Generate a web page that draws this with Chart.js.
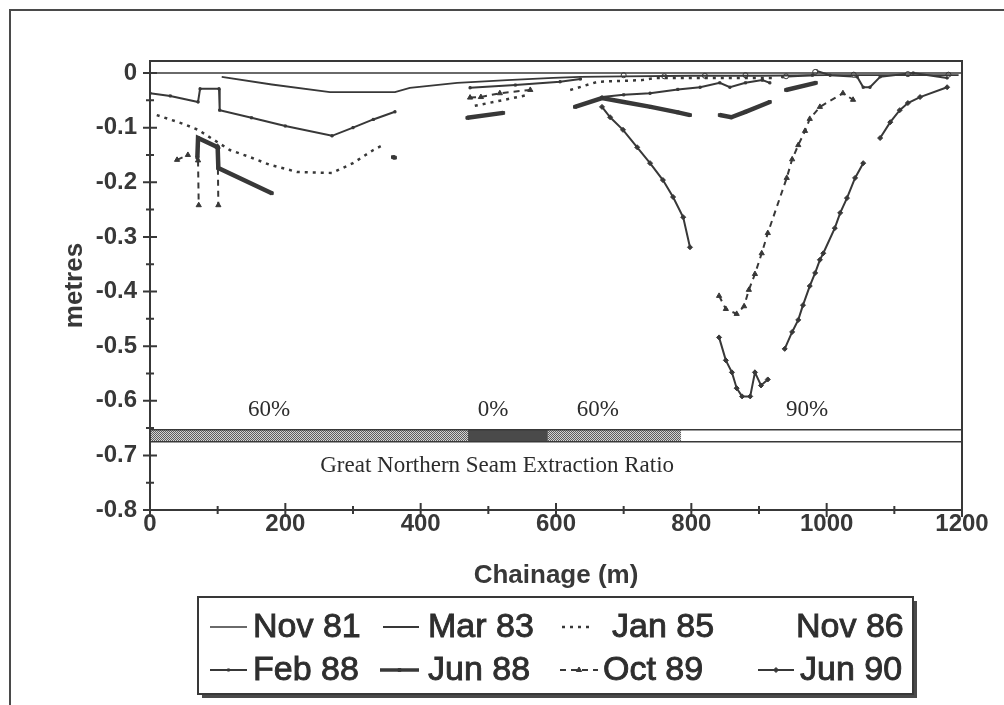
<!DOCTYPE html>
<html>
<head>
<meta charset="utf-8">
<script src="https://cdn.jsdelivr.net/npm/chart.js@4.4.1/dist/chart.umd.min.js"></script>
<style>
  html, body { margin: 0; padding: 0; background: #fff; }
  canvas { display: block; }
</style>
</head>
<body>
<canvas id="chart" width="1004" height="705"></canvas>
<script>
'use strict';

let canvasElem = document.getElementById('chart');

// chainage (m) / subsidence (m), null = break in the survey line
let nov81Chainage = [0, 1200];
let nov81Values = [0, 0];

let mar83Chainage = [106, 180, 266, 362, 384, 454, 528, 596, 636, 700, 800, 900, 1000, 1100, 1195];
let mar83Values = [-0.007, -0.021, -0.035, -0.035, -0.027, -0.018, -0.013, -0.009, -0.007, -0.006, -0.005, -0.005, -0.004, -0.004, -0.004];

let jan85Chainage = [10, 49, 71, 118, 148, 177, 217, 269, 300, 330, 347, 400, 480, 520, 559, 600, 621, 662, 727, 746, 842, 920];
let jan85Values = [-0.077, -0.093, -0.104, -0.141, -0.154, -0.168, -0.181, -0.183, -0.165, -0.141, -0.130, null, -0.060, -0.050, -0.040, null, -0.031, -0.016, -0.013, -0.009, -0.009, -0.009];

let nov86Chainage = [700, 760, 820, 880, 940, 983, 1040, 1120, 1180];
let nov86Values = [-0.004, -0.006, -0.005, -0.004, -0.006, 0.002, -0.003, -0.002, -0.003];

let feb88Chainage = [0, 30, 71, 74, 102, 103, 150, 200, 269, 300, 330, 362, 420, 473, 540, 606, 636, 650, 668, 700, 739, 780, 813, 842, 857, 880, 905, 916, 925, 935, 979, 985, 1005, 1045, 1054, 1064, 1079, 1128, 1178];
let feb88Values = [-0.037, -0.042, -0.053, -0.029, -0.029, -0.068, -0.082, -0.097, -0.115, -0.100, -0.085, -0.071, null, -0.027, -0.022, -0.016, -0.011, null, -0.044, -0.040, -0.037, -0.030, -0.026, -0.018, -0.026, -0.018, -0.013, -0.018, null, -0.007, -0.004, 0.004, -0.004, -0.007, -0.026, -0.026, -0.007, 0.0, -0.009];

let jun88Chainage = [70, 71, 100, 101, 180, 250, 359, 362, 400, 469, 522, 560, 628, 668, 700, 740, 780, 798, 820, 842, 859, 880, 916, 928, 940, 984];
let jun88Values = [-0.155, -0.119, -0.136, -0.174, -0.220, null, -0.154, -0.155, null, -0.082, -0.073, null, -0.062, -0.046, -0.053, -0.062, -0.072, -0.077, null, -0.077, -0.081, -0.071, -0.053, null, -0.031, -0.018];

let oct89Chainage = [40, 56, 64, 71, 72, 86, 100, 101, 300, 473, 489, 517, 562, 700, 841, 851, 867, 878, 885, 894, 904, 913, 941, 949, 958, 968, 975, 990, 1024, 1039];
let oct89Values = [-0.159, -0.150, null, -0.160, -0.242, null, -0.135, -0.242, null, -0.045, -0.044, -0.037, -0.031, null, -0.408, -0.432, -0.441, -0.427, -0.397, -0.368, -0.330, -0.293, -0.192, -0.158, -0.132, -0.106, -0.084, -0.062, -0.037, -0.049];

let jun90Chainage = [668, 680, 699, 720, 739, 758, 773, 788, 798, 820, 841, 851, 860, 867, 875, 887, 894, 903, 913, 925, 938, 949, 958, 965, 975, 983, 990, 995, 1012, 1020, 1030, 1042, 1054, 1066, 1079, 1094, 1108, 1120, 1138, 1178];
let jun90Values = [-0.062, -0.081, -0.104, -0.136, -0.165, -0.196, -0.227, -0.264, -0.319, null, -0.484, -0.526, -0.548, -0.577, -0.592, -0.592, -0.548, -0.572, -0.561, null, -0.505, -0.474, -0.452, -0.425, -0.390, -0.366, -0.342, -0.330, -0.284, -0.256, -0.229, -0.192, -0.165, null, -0.119, -0.090, -0.068, -0.055, -0.044, -0.026];

let seriesLabels = ['Nov 81', 'Mar 83', 'Jan 85', 'Nov 86', 'Feb 88', 'Jun 88', 'Oct 89', 'Jun 90'];

// Great Northern seam extraction ratio along the line
let ratioStart = [0, 470, 588, 785];
let ratioEnd = [470, 588, 785, 1200];
let ratioLabels = ['60%', '0%', '60%', '90%'];
let ratioLabelChainage = [176, 507, 662, 971];

let xTickValues = [0, 100, 200, 300, 400, 500, 600, 700, 800, 900, 1000, 1100, 1200];
let xTickLabels = ['0', '', '200', '', '400', '', '600', '', '800', '', '1000', '', '1200'];
let yTickValues = [-0.8, -0.75, -0.7, -0.65, -0.6, -0.55, -0.5, -0.45, -0.4, -0.35, -0.3, -0.25, -0.2, -0.15, -0.1, -0.05, 0];
let yTickLabels = ['-0.8', '', '-0.7', '', '-0.6', '', '-0.5', '', '-0.4', '', '-0.3', '', '-0.2', '', '-0.1', '', '0'];

let ink = '#383838';
let sans = '"Liberation Sans", Arial, sans-serif';
let serif = '"Liberation Serif", "Times New Roman", serif';

Chart.defaults.font.family = sans;
Chart.defaults.color = ink;

function toPoints(chainage, values) {
  let points = [];
  for (let i = 0; i < chainage.length; i++) {
    points.push({x: chainage[i], y: values[i]});
  }
  return points;
}

let seriesData = [
  toPoints(nov81Chainage, nov81Values),
  toPoints(mar83Chainage, mar83Values),
  toPoints(jan85Chainage, jan85Values),
  toPoints(nov86Chainage, nov86Values),
  toPoints(feb88Chainage, feb88Values),
  toPoints(jun88Chainage, jun88Values),
  toPoints(oct89Chainage, oct89Values),
  toPoints(jun90Chainage, jun90Values)
];

let seriesStyles = [
  {borderWidth: 1.5, pointRadius: 0},
  {borderWidth: 1.8, pointRadius: 0},
  {borderWidth: 2.5, borderDash: [3, 5], pointRadius: 0},
  {showLine: false, borderWidth: 1.2, pointRadius: 2.5, pointStyle: 'circle', pointBackgroundColor: '#fff'},
  {borderWidth: 2, pointRadius: 1.5, pointStyle: 'rect'},
  {borderWidth: 4.5, pointRadius: 2, pointStyle: 'rect'},
  {borderWidth: 2, borderDash: [6, 5], pointRadius: 3, pointStyle: 'triangle'},
  {borderWidth: 2, pointRadius: 2.5, pointStyle: 'rectRot'}
];

let datasets = [];
for (let i = 0; i < seriesLabels.length; i++) {
  let ds = {
    label: seriesLabels[i],
    data: seriesData[i],
    borderColor: ink,
    backgroundColor: ink,
    pointBackgroundColor: ink,
    pointBorderColor: ink,
    pointBorderWidth: 1,
    fill: false,
    tension: 0,
    spanGaps: false
  };
  Object.assign(ds, seriesStyles[i]);
  datasets.push(ds);
}

function makeHatch(ctx) {
  let c = document.createElement('canvas');
  c.width = 4;
  c.height = 4;
  let g = c.getContext('2d');
  g.fillStyle = '#d4d4d4';
  g.fillRect(0, 0, 4, 4);
  g.fillStyle = '#5e5e5e';
  for (let i = 0; i < 4; i++) {
    g.fillRect(i, i, 1, 1);
    g.fillRect((i + 2) % 4, i, 1, 1);
  }
  return ctx.createPattern(c, 'repeat');
}

// paper, outer scan frame
let paperPlugin = {
  id: 'paper',
  beforeDraw(chart) {
    let ctx = chart.ctx;
    ctx.save();
    ctx.fillStyle = '#fff';
    ctx.fillRect(0, 0, chart.width, chart.height);
    ctx.strokeStyle = '#4a4a4a';
    ctx.lineWidth = 2;
    ctx.beginPath();
    ctx.moveTo(10, chart.height);
    ctx.lineTo(10, 10);
    ctx.lineTo(chart.width, 10);
    ctx.stroke();
    ctx.restore();
  }
};

// extraction ratio strip under the profiles
let seamPlugin = {
  id: 'seam',
  beforeDatasetsDraw(chart) {
    let ctx = chart.ctx;
    let x = chart.scales.x;
    let y = chart.scales.y;
    let top = y.getPixelForValue(-0.653);
    let bottom = y.getPixelForValue(-0.675);
    let fills = [makeHatch(ctx), '#4a4a4a', makeHatch(ctx), '#fff'];
    ctx.save();
    for (let i = 0; i < ratioStart.length; i++) {
      let x0 = x.getPixelForValue(ratioStart[i]);
      let x1 = x.getPixelForValue(ratioEnd[i]);
      ctx.fillStyle = fills[i];
      ctx.fillRect(x0, top, x1 - x0, bottom - top);
    }
    ctx.strokeStyle = ink;
    ctx.lineWidth = 1.5;
    ctx.beginPath();
    ctx.moveTo(chart.chartArea.left, top);
    ctx.lineTo(chart.chartArea.right, top);
    ctx.moveTo(chart.chartArea.left, bottom);
    ctx.lineTo(chart.chartArea.right, bottom);
    ctx.stroke();

    ctx.fillStyle = '#2c2c2c';
    ctx.textAlign = 'center';
    ctx.textBaseline = 'middle';
    ctx.font = '23px ' + serif;
    for (let i = 0; i < ratioLabels.length; i++) {
      ctx.fillText(ratioLabels[i], x.getPixelForValue(ratioLabelChainage[i]), y.getPixelForValue(-0.617));
    }
    ctx.fillText('Great Northern Seam Extraction Ratio', x.getPixelForValue(513), y.getPixelForValue(-0.72));
    ctx.restore();
  }
};

// plot frame and tick marks that cross the axes
let framePlugin = {
  id: 'frame',
  afterDatasetsDraw(chart) {
    let ctx = chart.ctx;
    let a = chart.chartArea;
    let x = chart.scales.x;
    let y = chart.scales.y;
    ctx.save();
    ctx.strokeStyle = ink;
    ctx.lineWidth = 2;
    ctx.strokeRect(a.left, a.top, a.right - a.left, a.bottom - a.top);
    ctx.beginPath();
    for (let i = 0; i < yTickValues.length; i++) {
      let py = y.getPixelForValue(yTickValues[i]);
      let len = yTickLabels[i] !== '' ? 7 : 4;
      ctx.moveTo(a.left - len, py);
      ctx.lineTo(a.left + len, py);
    }
    for (let i = 0; i < xTickValues.length; i++) {
      let px = x.getPixelForValue(xTickValues[i]);
      let len = xTickLabels[i] !== '' ? 7 : 4;
      ctx.moveTo(px, a.bottom - len);
      ctx.lineTo(px, a.bottom + len);
    }
    ctx.stroke();
    ctx.restore();
  }
};

// boxed two-row legend as on the original figure
let legendSlots = [
  {row: 0, s0: 210, s1: 247, t: 253},
  {row: 0, s0: 383, s1: 419, t: 428},
  {row: 0, s0: 562, s1: 590, t: 612},
  {row: 0, s0: 0, s1: 0, t: 796},
  {row: 1, s0: 210, s1: 247, t: 253},
  {row: 1, s0: 380, s1: 419, t: 428},
  {row: 1, s0: 560, s1: 598, t: 603},
  {row: 1, s0: 758, s1: 794, t: 800}
];

let legendPlugin = {
  id: 'boxLegend',
  afterDraw(chart) {
    let ctx = chart.ctx;
    ctx.save();
    ctx.fillStyle = '#4a4a4a';
    ctx.fillRect(913, 601, 4, 97);
    ctx.fillRect(202, 694, 715, 4);
    ctx.fillStyle = '#fff';
    ctx.fillRect(198, 597, 715, 97);
    ctx.strokeStyle = ink;
    ctx.lineWidth = 2;
    ctx.strokeRect(198, 597, 715, 97);

    let rowY = [627, 670];
    ctx.font = '34px ' + sans;
    ctx.textBaseline = 'middle';
    ctx.textAlign = 'left';
    chart.data.datasets.forEach(function(ds, i) {
      let slot = legendSlots[i];
      let yy = rowY[slot.row];
      if (ds.showLine !== false) {
        ctx.strokeStyle = ink;
        ctx.lineWidth = Math.min(ds.borderWidth, 3.5);
        ctx.setLineDash(ds.borderDash || []);
        ctx.beginPath();
        ctx.moveTo(slot.s0, yy);
        ctx.lineTo(slot.s1, yy);
        ctx.stroke();
        ctx.setLineDash([]);
        if (ds.pointRadius > 0) {
          ctx.fillStyle = ink;
          ctx.lineWidth = 1;
          Chart.helpers.drawPoint(ctx, {pointStyle: ds.pointStyle, radius: ds.pointRadius, borderWidth: 1, rotation: 0}, (slot.s0 + slot.s1) / 2, yy);
        }
      }
      // scan-thickened lettering: regular face with a light outline
      ctx.fillStyle = '#2e2e2e';
      ctx.strokeStyle = '#2e2e2e';
      ctx.lineWidth = 0.9;
      ctx.fillText(ds.label, slot.t, yy + 1);
      ctx.strokeText(ds.label, slot.t, yy + 1);
    });
    ctx.restore();
  }
};

new Chart(canvasElem, {
  type: 'line',
  data: {datasets: datasets},
  options: {
    responsive: false,
    animation: false,
    devicePixelRatio: 1,
    events: [],
    layout: {padding: {left: 40, right: 42, top: 61, bottom: 105}},
    plugins: {
      legend: {display: false},
      tooltip: {enabled: false}
    },
    scales: {
      x: {
        type: 'linear',
        min: 0,
        max: 1200,
        afterBuildTicks: function(scale) {
          scale.ticks = xTickValues.map(function(v) { return {value: v}; });
        },
        afterFit: function(scale) { scale.height = 90; },
        grid: {display: false, drawTicks: false},
        border: {display: false},
        ticks: {
          autoSkip: false,
          maxRotation: 0,
          padding: 0,
          color: ink,
          font: {size: 24, weight: 'bold'},
          callback: function(v, i) { return xTickLabels[i]; }
        },
        title: {
          display: true,
          text: 'Chainage (m)',
          color: ink,
          font: {size: 26, weight: 'bold'},
          padding: {top: 0, bottom: 9}
        }
      },
      y: {
        type: 'linear',
        min: -0.8,
        max: 0.022,
        afterBuildTicks: function(scale) {
          scale.ticks = yTickValues.map(function(v) { return {value: v}; });
        },
        afterFit: function(scale) { scale.width = 110; },
        grid: {display: false, drawTicks: false},
        border: {display: false},
        ticks: {
          autoSkip: false,
          padding: 13,
          color: ink,
          font: {size: 24, weight: 'bold'},
          callback: function(v, i) { return yTickLabels[i]; }
        },
        title: {
          display: true,
          text: 'metres',
          color: ink,
          font: {size: 26, weight: 'bold'},
          padding: {top: 19, bottom: 0}
        }
      }
    }
  },
  plugins: [paperPlugin, seamPlugin, framePlugin, legendPlugin]
});
</script>
</body>
</html>
